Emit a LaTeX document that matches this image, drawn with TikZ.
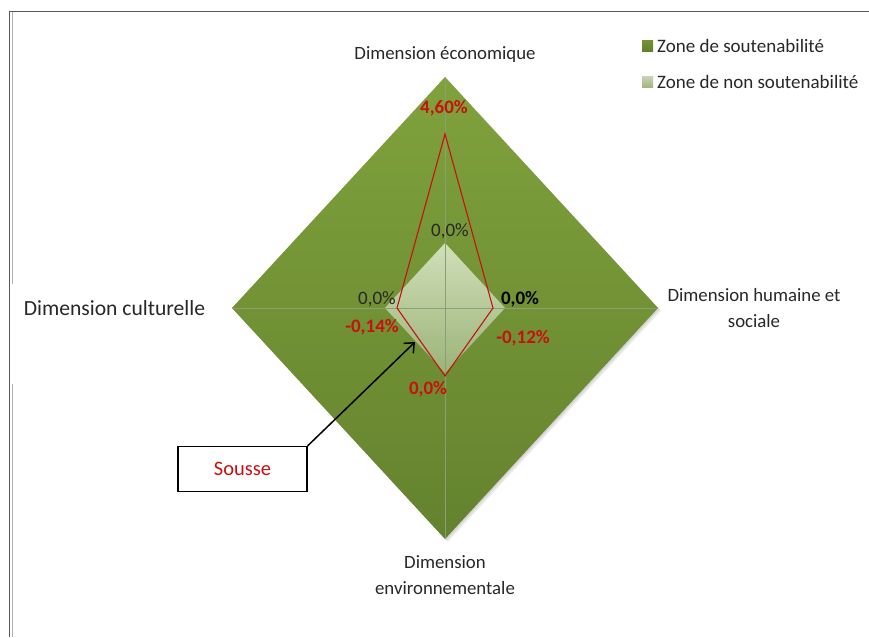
\documentclass[tikz,border=0pt]{standalone}
\usepackage{fontspec}
\setmainfont{Carlito}
\usetikzlibrary{arrows.meta}
\definecolor{gtop}{RGB}{128,162,60}
\definecolor{gbot}{RGB}{100,130,46}
\definecolor{ltop}{RGB}{220,232,200}
\definecolor{lbot}{RGB}{160,184,128}
\definecolor{axisgray}{RGB}{140,158,120}
\definecolor{dred}{RGB}{200,16,16}
\definecolor{txt}{RGB}{40,40,40}
\tikzset{
  lab/.style={inner sep=0pt, text=txt, font=\fontsize{18.8}{25.5}\selectfont},
  pct/.style={inner sep=0pt, font=\fontsize{19}{22}\selectfont},
  redpct/.style={pct, text=dred, font=\fontsize{19}{22}\selectfont\bfseries},
  legtxt/.style={inner sep=0pt, anchor=west, text=txt, font=\fontsize{19}{22}\selectfont},
  callout/.style={draw=black, line width=1.4pt, minimum width=129pt, minimum height=45pt, inner sep=0pt, text=dred, font=\fontsize{20.5}{22}\selectfont}
}
\begin{document}
\begin{tikzpicture}[x=1pt,y=-1pt]
\useasboundingbox (0,0) rectangle (869,637);
\fill[white] (0,0) rectangle (869,637);
% frame
\draw[black!65, line width=1pt] (9,11) -- (869,11);
\draw[black!65, line width=1pt] (9,11) -- (9,637);
\draw[black!30, line width=1pt] (12.5,12) -- (12.5,284);
\draw[black!30, line width=1pt] (12.5,384) -- (12.5,637);
% vertices
\coordinate (T) at (445,77);
\coordinate (R) at (658,308);
\coordinate (B) at (445,539);
\coordinate (L) at (232,308);
% soft shadow
\foreach \d in {3,2,1}{
  \fill[black, opacity=0.06] (445+\d,77+\d) -- (658+\d,308+\d) -- (445+\d,539+\d) -- (232+\d,308+\d) -- cycle;
}
% outer diamond
\shade[top color=gtop, bottom color=gbot] (T) -- (R) -- (B) -- (L) -- cycle;
% inner diamond
\shade[top color=ltop, bottom color=lbot, opacity=0.9] (445,243) -- (505,308) -- (445,373) -- (385,308) -- cycle;
% axes
\draw[axisgray, line width=0.8pt] (L) -- (R);
\draw[axisgray, line width=0.8pt] (T) -- (B);
% red polygon
\coordinate (pT) at (445,134);
\coordinate (pR) at (493,308);
\coordinate (pB) at (445,376);
\coordinate (pL) at (397,308);
\draw[dred, line width=1.1pt, line join=miter] (pT) -- (pR) -- (pB) -- (pL) -- cycle;
% axis labels
\node[lab] (eco) at (445,55) {Dimension économique};
\node[lab, font=\fontsize{21.6}{24}\selectfont] (cul) at (114.5,308) {Dimension culturelle};
\node[lab, align=center] (hum) at (754,308) {Dimension humaine et\\sociale};
\node[lab, align=center] (env) at (445,575) {Dimension\\environnementale};
% value labels
\node[redpct] (v1) at (444,108) {4,60\%};
\node[pct, text=txt] (v2) at (450,231) {0,0\%};
\node[pct, text=txt] (v3) at (377,299) {0,0\%};
\node[pct, text=black, font=\fontsize{19}{22}\selectfont\bfseries] (v4) at (520,299) {0,0\%};
\node[redpct] (v5) at (372,327) {-0,14\%};
\node[redpct] (v6) at (523,338) {-0,12\%};
\node[redpct] (v7) at (428,389) {0,0\%};
% legend
\shade[top color=gtop!90!black, bottom color=gbot] (642,40) rectangle (653,51);
\node[legtxt] (leg1) at (657,46) {Zone de soutenabilité};
\shade[top color=ltop!80!gray, bottom color=lbot] (642,76) rectangle (653,87);
\node[legtxt] (leg2) at (657,82) {Zone de non soutenabilité};
% callout
\node[callout] (sousse) at (242.5,469) {Sousse};
\coordinate (tip) at (415,342);
\draw[line width=1.5pt, -{Straight Barb[length=8pt,width=14pt,line width=1.5pt]}] (sousse.north east) -- (tip);
\end{tikzpicture}
\end{document}
